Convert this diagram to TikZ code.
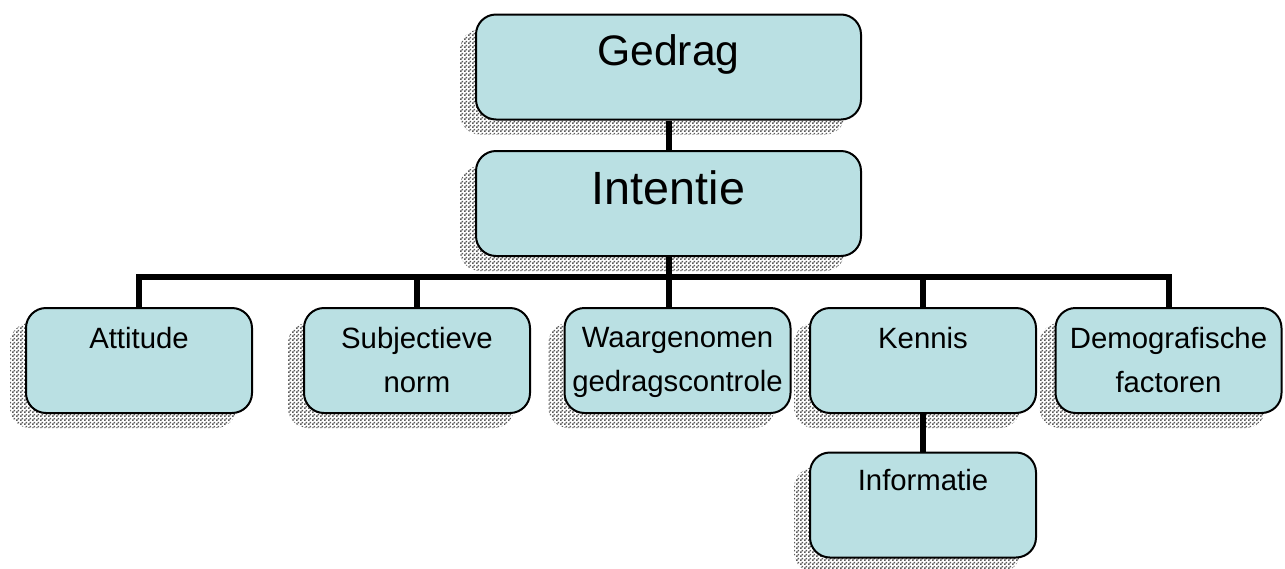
\documentclass[tikz,border=0pt]{standalone}
\usepackage{fontspec}
\setmainfont{Liberation Sans}
\usetikzlibrary{shadows,patterns}
\definecolor{lichtblauw}{RGB}{186,224,227}
\pgfdeclarepatternformonly{fijnruit}{\pgfpointorigin}{\pgfqpoint{3pt}{3pt}}{\pgfqpoint{3pt}{3pt}}{%
 \pgfpathrectangle{\pgfpointorigin}{\pgfqpoint{1.5pt}{1.5pt}}%
 \pgfpathrectangle{\pgfqpoint{1.5pt}{1.5pt}}{\pgfqpoint{1.5pt}{1.5pt}}%
 \pgfusepath{fill}}

\begin{document}
\begin{tikzpicture}[x=0.75pt, y=-0.75pt]
 \tikzstyle{blok}=[draw, rounded corners=15pt, fill=lichtblauw, line width=1.5pt, minimum width=169.5pt, minimum height=78.75pt, drop shadow={shadow xshift=-12pt, shadow yshift=-11.25pt, opacity=1, fill=none, pattern=fijnruit, pattern color=black!65}]
 \tikzstyle{tekst}=[anchor=north, yshift=-14.75pt, inner sep=0pt, align=center, font=\fontsize{22}{33}\selectfont]
 \tikzstyle{lijn}=[line width=4.5pt]
 \useasboundingbox (0,0) rectangle (1285,568);
 %
 \node[blok, minimum width=288.75pt, label={[tekst, yshift=-0.75pt, font=\fontsize{32}{38}\selectfont]90:Gedrag}] (Ged) at (668.5, 67) {};
 \node[blok, minimum width=288.75pt, label={[tekst, yshift=-0.75pt, font=\fontsize{35}{42}\selectfont]90:Intentie}] (Int) at (668.5, 203.5) {};
 %
 \node[blok, label={[tekst]90:Attitude}] (Att) at (139, 360.5) {};
 \node[blok, label={[tekst]90:{Subjectieve\\norm}}] (Sub) at (417, 360.5) {};
 \node[blok, label={[tekst]90:{Waargenomen\\gedragscontrole}}] (Waa) at (677.5, 360.5) {};
 \node[blok, label={[tekst]90:Kennis}] (Ken) at (923, 360.5) {};
 \node[blok, label={[tekst]90:{Demografische\\factoren}}] (Dem) at (1168.5, 360.5) {};
 %
 \node[blok, label={[tekst, yshift=1.5pt]90:Informatie}] (Inf) at (923, 505) {};
 %%
 \coordinate (balk) at (668.5, 277);
 \draw[lijn] (Ged)--(Int);
 \draw[lijn] (Int)--(Int |- Waa.north);
 \draw[lijn] (Att.north)--(Att.north |- balk)--(Dem.north |- balk)--(Dem.north);
 \draw[lijn] (Sub.north)--(Sub.north |- balk);
 \draw[lijn] (Ken.north)--(Ken.north |- balk);
 \draw[lijn] (Ken)--(Inf);
\end{tikzpicture}
\end{document}
